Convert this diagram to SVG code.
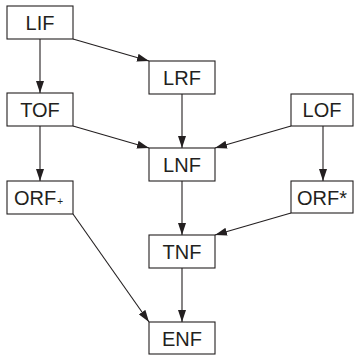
<svg xmlns="http://www.w3.org/2000/svg" width="354" height="355" viewBox="0 0 354 355">
<style>
.box{fill:#fff;stroke:#231f20;stroke-width:1.1}
.lbl{font-family:"Liberation Sans",Arial,sans-serif;font-size:20px;fill:#231f20;text-anchor:middle}
.sub{font-size:10px}
.edge{stroke:#231f20;stroke-width:1.1;fill:none;marker-end:url(#ah)}
</style>
<defs>
<marker id="ah" viewBox="0 0 12 8" refX="12" refY="4" markerWidth="12" markerHeight="8" markerUnits="userSpaceOnUse" orient="auto">
<path d="M0,0 L12,4 L0,8 Z" fill="#231f20"/>
</marker>
</defs>
<rect width="354" height="355" fill="#fff"/>
<g id="connectors">
<line class="edge" x1="40" y1="39" x2="40" y2="93"/>
<line class="edge" x1="73" y1="39" x2="149" y2="61"/>
<line class="edge" x1="182" y1="94" x2="182" y2="148"/>
<line class="edge" x1="73" y1="126" x2="149" y2="148"/>
<line class="edge" x1="291" y1="126" x2="215" y2="148"/>
<line class="edge" x1="323" y1="126" x2="323" y2="181"/>
<line class="edge" x1="40" y1="126" x2="40" y2="181"/>
<line class="edge" x1="182" y1="181" x2="182" y2="235"/>
<line class="edge" x1="291" y1="213" x2="215" y2="235"/>
<line class="edge" x1="73" y1="214" x2="149" y2="322"/>
<line class="edge" x1="182" y1="268" x2="182" y2="322"/>
</g>
<g id="LIF"><rect class="box" x="7" y="6" width="66" height="33"/><text class="lbl" x="40" y="30">LIF</text></g>
<g id="LRF"><rect class="box" x="149" y="61" width="66" height="33"/><text class="lbl" x="182" y="85">LRF</text></g>
<g id="TOF"><rect class="box" x="7" y="93" width="66" height="33"/><text class="lbl" x="40" y="117">TOF</text></g>
<g id="LOF"><rect class="box" x="291" y="94" width="62" height="32"/><text class="lbl" x="322" y="117">LOF</text></g>
<g id="LNF"><rect class="box" x="149" y="148" width="66" height="33"/><text class="lbl" x="182" y="172">LNF</text></g>
<g id="ORF_plus"><rect class="box" x="7" y="181" width="66" height="33"/><text class="lbl" x="14" y="205" style="text-anchor:start">ORF<tspan class="sub" dx="1">+</tspan></text></g>
<g id="ORF_star"><rect class="box" x="291" y="181" width="62" height="32"/><text class="lbl" x="322" y="205">ORF*</text></g>
<g id="TNF"><rect class="box" x="149" y="235" width="66" height="33"/><text class="lbl" x="182" y="259">TNF</text></g>
<g id="ENF"><rect class="box" x="149" y="322" width="66" height="32"/><text class="lbl" x="182" y="346">ENF</text></g>
</svg>
